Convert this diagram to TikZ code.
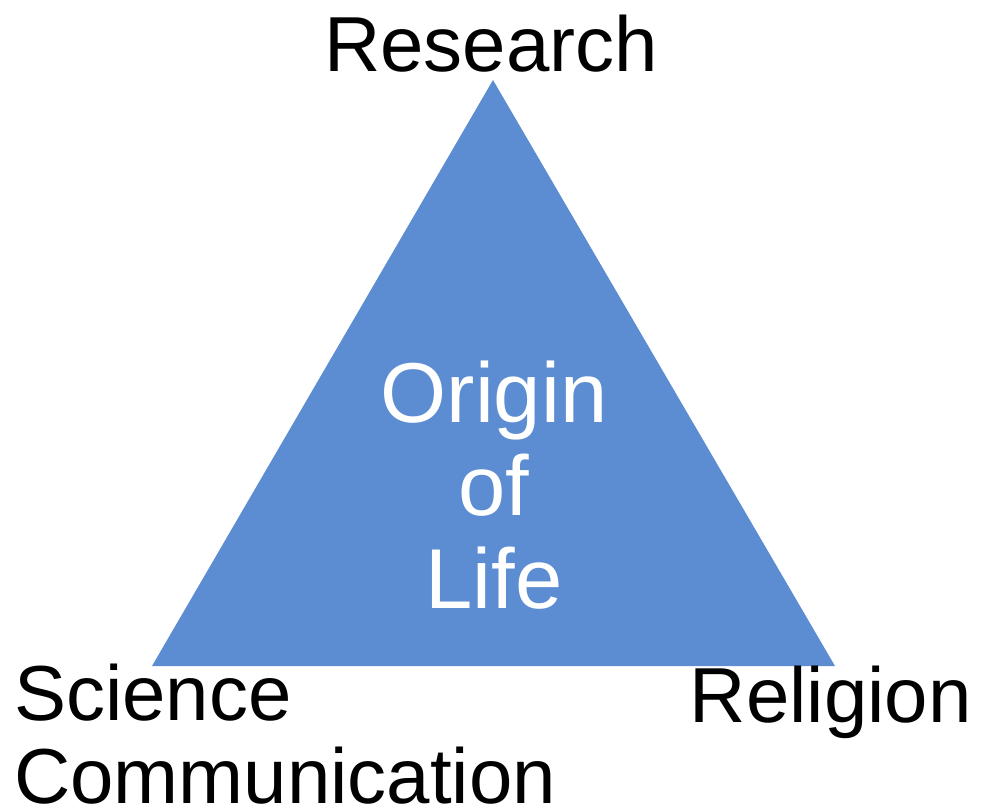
\documentclass[tikz,border=0pt]{standalone}
\usepackage{fontspec}
\setmainfont{Liberation Sans}
\usepackage{tikz}
\usetikzlibrary{positioning}
\definecolor{triblue}{RGB}{92,141,211}

\begin{document}
\begin{tikzpicture}[
    x=1pt, y=-1pt,
    corner/.style={inner sep=0pt, font=\fontsize{78}{83}\selectfont, text=black},
    centre/.style={inner sep=0pt, font=\fontsize{85}{93}\selectfont, text=white, align=center},
]
\useasboundingbox (0,0) rectangle (986,808);
% the triangle
\coordinate (top)   at (493,80);
\coordinate (left)  at (152,666);
\coordinate (right) at (835,666);
\fill[triblue] (top) -- (left) -- (right) -- cycle;
% labels at the corners (base = last line)
\node[corner, anchor=base]      (research) at (491,72)  {Research};
\node[corner, anchor=base west, align=left] (scicom) at (14,803) {Science\\Communication};
\node[corner, anchor=base east] (religion) at (972,722) {Religion};
\node[centre, anchor=base]      (origin)   at (494,608) {Origin\\of\\Life};
\end{tikzpicture}
\end{document}
